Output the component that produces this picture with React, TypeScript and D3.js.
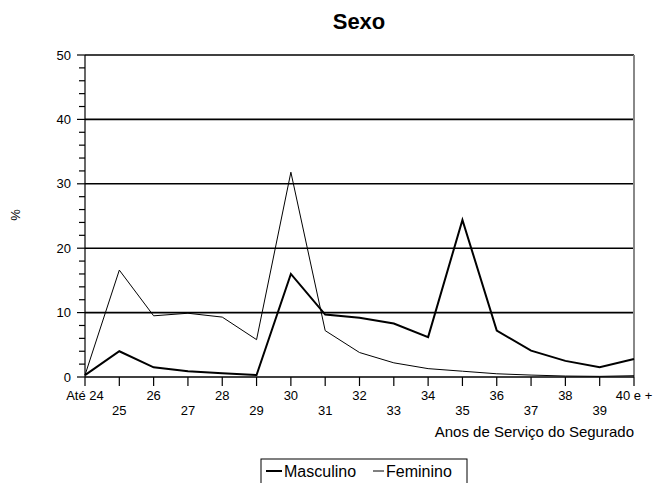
import * as d3 from 'd3';

const categories = ['Até 24', '25', '26', '27', '28', '29', '30', '31', '32', '33', '34', '35', '36', '37', '38', '39', '40 e +'];
const masculino = [0.3, 4.0, 1.5, 0.9, 0.6, 0.3, 16.0, 9.7, 9.2, 8.3, 6.2, 24.4, 7.2, 4.1, 2.5, 1.5, 2.8];
const feminino = [0.3, 16.6, 9.5, 9.9, 9.3, 5.8, 31.8, 7.2, 3.8, 2.2, 1.3, 0.9, 0.5, 0.3, 0.15, 0.1, 0.2];
const yTicks = [0, 10, 20, 30, 40, 50];
const series = [
  { name: 'Masculino', values: masculino, width: 2 },
  { name: 'Feminino', values: feminino, width: 1 },
];

const W = 656;
const H = 483;
const left = 85;
const right = 634;
const top = 55;
const bottom = 377;
const font = 'Liberation Sans, Arial, Helvetica, sans-serif';

export default function App() {
  const x = d3.scalePoint<string>().domain(categories).range([left, right]);
  const y = d3.scaleLinear().domain([0, 50]).range([bottom, top]);
  const minor = d3.range(0, 51, 2).filter(v => v % 10 !== 0);

  const line = (vals: number[]) =>
    d3.line<number>()
      .x((_, i) => x(categories[i]) as number)
      .y(d => y(d))(vals) as string;

  return (
    <svg width={W} height={H} style={{ position: 'absolute', left: 0, top: 0 }} fontFamily={font}>
      <rect width={W} height={H} fill="#fff" />
      <text x={359} y={29} textAnchor="middle" fontSize={22} fontWeight="bold">Sexo</text>

      {/* grid */}
      {yTicks.filter(t => t > 0).map(t => (
        <line key={t} x1={left} x2={right} y1={y(t)} y2={y(t)} stroke="#000" strokeWidth={1.6} />
      ))}
      <line x1={right} x2={right} y1={top} y2={bottom} stroke="#888" strokeWidth={2} />

      {/* y axis */}
      <line x1={left} x2={left} y1={top} y2={bottom} stroke="#000" strokeWidth={1.2} />
      {yTicks.map(t => (
        <g key={t}>
          <line x1={left - 8} x2={left} y1={y(t)} y2={y(t)} stroke="#000" strokeWidth={1.2} />
          <text x={left - 14} y={y(t)} dy="0.35em" textAnchor="end" fontSize={13}>{t}</text>
        </g>
      ))}
      {minor.map(t => (
        <line key={t} x1={left - 6} x2={left} y1={y(t)} y2={y(t)} stroke="#000" strokeWidth={1.2} />
      ))}
      <text transform={`translate(20,215) rotate(-90)`} textAnchor="middle" fontSize={13}>%</text>

      {/* x axis */}
      <line x1={left} x2={right} y1={bottom} y2={bottom} stroke="#000" strokeWidth={1.6} />
      {categories.map((c, i) => (
        <g key={c}>
          <line x1={x(c)} x2={x(c)} y1={bottom} y2={bottom + 9} stroke="#000" strokeWidth={1.2} />
          <text x={x(c)} y={i % 2 === 0 ? 400 : 415} textAnchor="middle" fontSize={13}>{c}</text>
        </g>
      ))}
      <text x={right} y={437} textAnchor="end" fontSize={15}>Anos de Serviço do Segurado</text>

      {/* lines */}
      {series.map(s => (
        <path key={s.name} d={line(s.values)} fill="none" stroke="#000" strokeWidth={s.width} strokeLinejoin="miter" />
      ))}

      {/* legend */}
      <rect x={261} y={459} width={206} height={40} fill="#fff" stroke="#000" strokeWidth={1} />
      <line x1={266} x2={282} y1={471} y2={471} stroke="#000" strokeWidth={2} />
      <text x={284} y={477} fontSize={16}>Masculino</text>
      <line x1={373} x2={384} y1={471} y2={471} stroke="#000" strokeWidth={1} />
      <text x={386} y={477} fontSize={16}>Feminino</text>
    </svg>
  );
}
